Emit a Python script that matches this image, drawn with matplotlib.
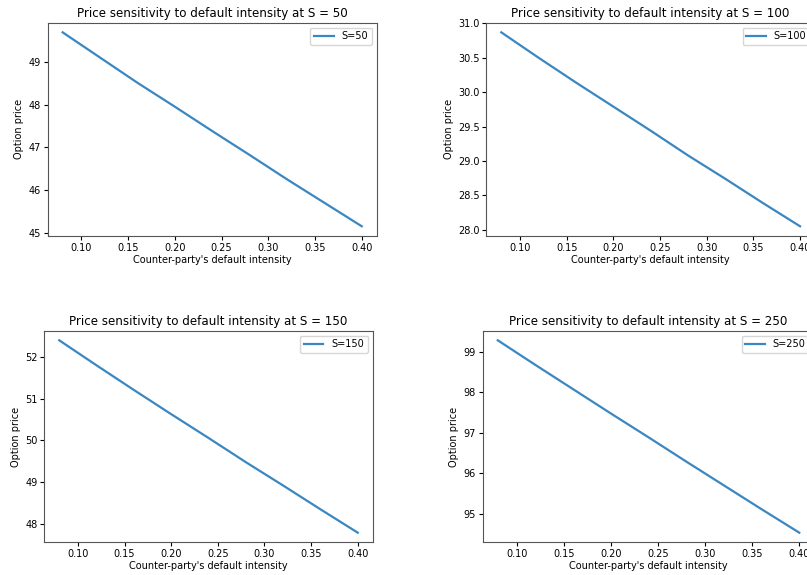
import matplotlib
matplotlib.use('Agg')
import matplotlib.pyplot as plt

# counter-party default intensity grid
intensity = [0.08, 0.12, 0.16, 0.20, 0.24, 0.28, 0.32, 0.36, 0.40]

# option prices for each spot level
price_s50 = [49.69, 49.10, 48.51, 47.95, 47.38, 46.82, 46.25, 45.70, 45.15]
price_s100 = [30.87, 30.50, 30.14, 29.79, 29.44, 29.08, 28.74, 28.39, 28.05]
price_s150 = [52.40, 51.80, 51.21, 50.63, 50.06, 49.48, 48.92, 48.35, 47.79]
price_s250 = [99.29, 98.68, 98.08, 97.48, 96.89, 96.29, 95.70, 95.11, 94.53]

spots = [50, 100, 150, 250]
prices = [price_s50, price_s100, price_s150, price_s250]

fig = plt.figure(figsize=(8.07, 5.75), dpi=100)
boxes = [
    [0.0591, 0.5896, 0.4077, 0.371],
    [0.6027, 0.5896, 0.4072, 0.371],
    [0.0549, 0.0569, 0.4069, 0.368],
    [0.5981, 0.0569, 0.4110, 0.368],
]

for box, s, p in zip(boxes, spots, prices):
    ax = fig.add_axes(box)
    ax.plot(intensity, p, label='S=%d' % s, color='#3a87c2', lw=1.6)
    ax.set_title('Price sensitivity to default intensity at S = %d' % s,
                 fontsize=8.6, pad=4)
    ax.set_xlabel("Counter-party's default intensity", fontsize=7.0, labelpad=1.5)
    ax.set_ylabel('Option price', fontsize=7.0, labelpad=3)
    ax.tick_params(labelsize=7.0, length=3, pad=2)
    for sp in ax.spines.values():
        sp.set_color('#555555')
    ax.legend(fontsize=7.0, loc='upper right')

fig.savefig('out.png', dpi=100)
